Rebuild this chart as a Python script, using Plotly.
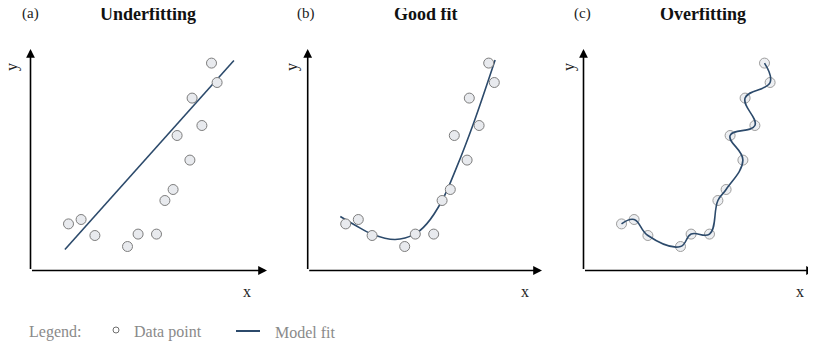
import plotly.graph_objects as go

# ---- data (shared by all three panels), listed in path order ----
x_data = [1.90, 2.53, 3.22, 4.85, 5.38, 6.30, 6.72, 7.13, 7.97, 7.33, 8.57, 8.08, 9.33, 9.05]
y_data = [2.33, 2.55, 1.75, 1.20, 1.82, 1.82, 3.50, 4.05, 5.52, 6.75, 7.25, 8.62, 9.40, 10.37]

# underfit model (straight line)
under_x = [1.72, 10.17]
under_y = [1.05, 10.50]

# good-fit model (smooth curve)
good_x = [1.63, 2.40, 3.20, 4.37, 5.37, 5.95, 6.72, 7.45, 8.28, 9.37]
good_y = [2.70, 2.25, 1.83, 1.55, 1.83, 2.33, 3.50, 5.17, 7.33, 10.53]

panel_titles = ["Underfitting", "Good fit", "Overfitting"]
panel_tags = ["(a)", "(b)", "(c)"]

# page body has an 8px margin; figure is sized to fit inside the window
OFF = 8
W, H = 816 - OFF, 346 - OFF


def px(xp):
    return (xp - OFF) / W


def py(yp):
    return (H - (yp - OFF)) / H


SCALE = 20.0  # px per data unit
origins = [30.5, 307.7, 583.5]
ends = [267.0, 542.0, 815.0]
y_orig_px, y_top_px = 270.5, 49.0

LINE_COLOR = "#2c4a6b"
FONT = "Liberation Serif, Times New Roman, serif"

fig = go.Figure()

for i in range(3):
    xa = "x" if i == 0 else f"x{i+1}"
    ya = "y" if i == 0 else f"y{i+1}"
    if i == 0:
        fig.add_trace(go.Scatter(x=under_x, y=under_y, mode="lines",
                                 line=dict(color=LINE_COLOR, width=1.6),
                                 xaxis=xa, yaxis=ya, showlegend=False, hoverinfo="skip"))
    elif i == 1:
        fig.add_trace(go.Scatter(x=good_x, y=good_y, mode="lines",
                                 line=dict(color=LINE_COLOR, width=1.6, shape="spline", smoothing=1.0),
                                 xaxis=xa, yaxis=ya, showlegend=False, hoverinfo="skip"))
    mk_opacity = 1.0 if i < 2 else 0.75
    fig.add_trace(go.Scatter(x=x_data, y=y_data, mode="markers",
                             marker=dict(size=10, color="#e8eaee", opacity=mk_opacity,
                                         line=dict(color="#7d7d7d", width=1)),
                             xaxis=xa, yaxis=ya, showlegend=False, cliponaxis=False,
                             hoverinfo="skip"))
    if i == 2:
        fig.add_trace(go.Scatter(x=x_data, y=y_data, mode="lines",
                                 line=dict(color=LINE_COLOR, width=1.6, shape="spline", smoothing=1.2),
                                 xaxis=xa, yaxis=ya, showlegend=False, hoverinfo="skip"))

axis_common = dict(showgrid=False, zeroline=False, showticklabels=False,
                   showline=False, ticks="", fixedrange=True)
layout_axes = {}
annotations = []
y_dom = [py(y_orig_px), py(y_top_px)]
y_max = (y_orig_px - y_top_px) / SCALE
for i in range(3):
    xk = "xaxis" if i == 0 else f"xaxis{i+1}"
    yk = "yaxis" if i == 0 else f"yaxis{i+1}"
    xr = (ends[i] - origins[i]) / SCALE
    layout_axes[xk] = dict(axis_common, domain=[px(origins[i]), min(1.0, px(ends[i]))], range=[0, xr],
                           anchor="y" if i == 0 else f"y{i+1}")
    layout_axes[yk] = dict(axis_common, domain=y_dom, range=[0, y_max],
                           anchor="x" if i == 0 else f"x{i+1}")
    xref = "x" if i == 0 else f"x{i+1}"
    yref = "y" if i == 0 else f"y{i+1}"
    # axis arrows
    annotations.append(dict(x=xr, y=0, ax=0, ay=0, xref=xref, yref=yref, axref=xref, ayref=yref,
                            text="", showarrow=True, arrowhead=2, arrowsize=1.1, arrowwidth=1.6,
                            arrowcolor="black", standoff=0, startstandoff=0))
    annotations.append(dict(x=0, y=y_max, ax=0, ay=0, xref=xref, yref=yref, axref=xref, ayref=yref,
                            text="", showarrow=True, arrowhead=2, arrowsize=1.1, arrowwidth=1.6,
                            arrowcolor="black", standoff=0, startstandoff=0))

title_cx = [148, 426.5, 703]
tag_cx = [30, 305.5, 582]
xlab_cx = [247, 525, 800]
ylab_cx = [12, 292, 569]
for i in range(3):
    annotations.append(dict(x=px(title_cx[i]), y=py(14), xref="paper", yref="paper",
                            text=f"<b>{panel_titles[i]}</b>", showarrow=False,
                            font=dict(family=FONT, size=18, color="#111111"),
                            xanchor="center", yanchor="middle"))
    annotations.append(dict(x=px(tag_cx[i]), y=py(14), xref="paper", yref="paper",
                            text=panel_tags[i], showarrow=False,
                            font=dict(family=FONT, size=15, color="#222222"),
                            xanchor="center", yanchor="middle"))
    annotations.append(dict(x=px(xlab_cx[i]), y=py(291), xref="paper", yref="paper",
                            text="x", showarrow=False,
                            font=dict(family=FONT, size=16, color="#222222"),
                            xanchor="center", yanchor="middle"))
    annotations.append(dict(x=px(ylab_cx[i]), y=py(67), xref="paper", yref="paper",
                            text="y", showarrow=False, textangle=-90,
                            font=dict(family=FONT, size=16, color="#222222"),
                            xanchor="center", yanchor="middle"))

# legend row
LEG_Y = 332
leg_font = dict(family=FONT, size=16, color="#8a8a8a")
annotations.append(dict(x=px(27), y=py(LEG_Y), xref="paper", yref="paper", text="Legend:",
                        showarrow=False, font=leg_font, xanchor="left", yanchor="middle"))
annotations.append(dict(x=px(132), y=py(LEG_Y), xref="paper", yref="paper", text="Data point",
                        showarrow=False, font=leg_font, xanchor="left", yanchor="middle"))
annotations.append(dict(x=px(273), y=py(LEG_Y), xref="paper", yref="paper", text="Model fit",
                        showarrow=False, font=leg_font, xanchor="left", yanchor="middle"))
shapes = [
    dict(type="circle", xref="paper", yref="paper",
         x0=px(113), x1=px(119), y0=py(LEG_Y + 1), y1=py(LEG_Y - 5),
         line=dict(color="#6e6e6e", width=1), fillcolor="white"),
    dict(type="line", xref="paper", yref="paper",
         x0=px(236), x1=px(260), y0=py(LEG_Y - 1), y1=py(LEG_Y - 1),
         line=dict(color=LINE_COLOR, width=2)),
]

fig.update_layout(
    width=W, height=H,
    margin=dict(l=0, r=0, t=0, b=0),
    paper_bgcolor="white", plot_bgcolor="white",
    showlegend=False,
    annotations=annotations, shapes=shapes,
    **layout_axes,
)

fig.write_html("out.html")
